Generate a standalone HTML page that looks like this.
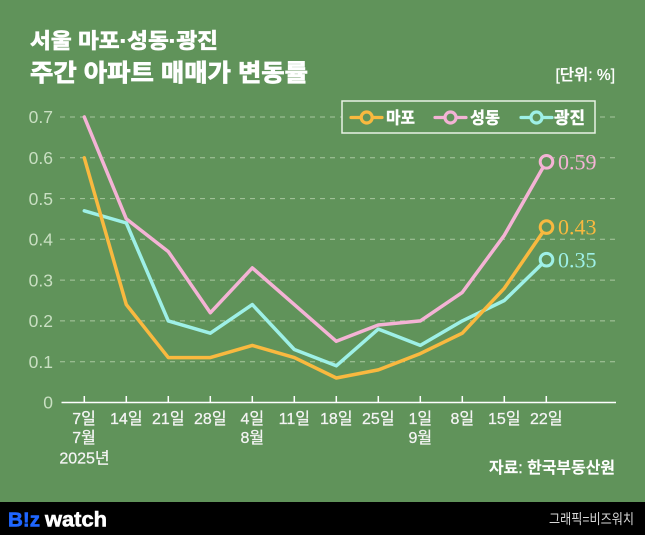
<!DOCTYPE html>
<html><head><meta charset="utf-8"><style>
html,body{margin:0;padding:0;background:#60935a;}
svg{display:block;}
.kr{font-family:"Liberation Sans","Noto Sans CJK KR",sans-serif;}
</style></head><body>
<svg width="645" height="535" viewBox="0 0 645 535" xmlns="http://www.w3.org/2000/svg">
<rect x="0" y="0" width="645" height="535" fill="#60935a"/>
<!-- titles -->
<text x="30" y="48" class="kr" font-size="21" font-weight="700" fill="#ffffff" stroke="#ffffff" stroke-width="0.7" textLength="188" lengthAdjust="spacingAndGlyphs">서울 마포·성동·광진</text>
<text x="30" y="81" class="kr" font-size="24" font-weight="700" fill="#ffffff" stroke="#ffffff" stroke-width="0.8" textLength="278" lengthAdjust="spacingAndGlyphs">주간 아파트 매매가 변동률</text>
<text x="615" y="80" class="kr" font-size="15.5" font-weight="500" fill="#ffffff" stroke="#ffffff" stroke-width="0.3" text-anchor="end">[단위: %]</text>
<!-- gridlines -->
<g stroke="#a9c7a0" stroke-width="1" stroke-dasharray="5,5">
<line x1="60" y1="117" x2="615" y2="117"/>
<line x1="60" y1="157.8" x2="615" y2="157.8"/>
<line x1="60" y1="198.6" x2="615" y2="198.6"/>
<line x1="60" y1="239.3" x2="615" y2="239.3"/>
<line x1="60" y1="280.1" x2="615" y2="280.1"/>
<line x1="60" y1="320.9" x2="615" y2="320.9"/>
<line x1="60" y1="361.7" x2="615" y2="361.7"/>
</g>
<!-- y labels -->
<g font-family="Liberation Sans, sans-serif" font-size="17.5" fill="#c9dfc2" text-anchor="end">
<text x="53" y="123">0.7</text>
<text x="53" y="164">0.6</text>
<text x="53" y="204.8">0.5</text>
<text x="53" y="245.5">0.4</text>
<text x="53" y="286.3">0.3</text>
<text x="53" y="327.1">0.2</text>
<text x="53" y="367.9">0.1</text>
<text x="53" y="408.5">0</text>
</g>
<!-- axis -->
<line x1="61.5" y1="402.5" x2="616" y2="402.5" stroke="#ffffff" stroke-width="1.5"/>
<g stroke="#ffffff" stroke-width="1.5">
<line x1="84.3" y1="396" x2="84.3" y2="402.5"/>
<line x1="126.3" y1="396" x2="126.3" y2="402.5"/>
<line x1="168.3" y1="396" x2="168.3" y2="402.5"/>
<line x1="210.3" y1="396" x2="210.3" y2="402.5"/>
<line x1="252.3" y1="396" x2="252.3" y2="402.5"/>
<line x1="294.3" y1="396" x2="294.3" y2="402.5"/>
<line x1="336.3" y1="396" x2="336.3" y2="402.5"/>
<line x1="378.3" y1="396" x2="378.3" y2="402.5"/>
<line x1="420.3" y1="396" x2="420.3" y2="402.5"/>
<line x1="462.3" y1="396" x2="462.3" y2="402.5"/>
<line x1="504.3" y1="396" x2="504.3" y2="402.5"/>
<line x1="546.3" y1="396" x2="546.3" y2="402.5"/>
</g>
<!-- x labels -->
<g class="kr" font-size="16" fill="#f4f4f4" stroke="#f4f4f4" stroke-width="0.25" text-anchor="middle">
<text x="84" y="424">7일</text>
<text x="126.3" y="424">14일</text>
<text x="168.3" y="424">21일</text>
<text x="210.3" y="424">28일</text>
<text x="252.3" y="424">4일</text>
<text x="294.3" y="424">11일</text>
<text x="336.3" y="424">18일</text>
<text x="378.3" y="424">25일</text>
<text x="420.3" y="424">1일</text>
<text x="462.3" y="424">8일</text>
<text x="504.3" y="424">15일</text>
<text x="546.3" y="424">22일</text>
<text x="84" y="443">7월</text>
<text x="252.3" y="443">8월</text>
<text x="420.3" y="443">9월</text>
<text x="84.5" y="463.5">2025년</text>
</g>
<!-- series -->
<g fill="none" stroke-width="3.5" stroke-linejoin="round" stroke-linecap="round">
<polyline stroke="#f4b3d5" points="84.3,117 126.3,218.9 168.3,251.6 210.3,312.8 252.3,267.9 294.3,304.6 336.3,341.3 378.3,325.0 420.3,320.9 462.3,292.4 504.3,235.3 546.3,161.8"/>
<polyline stroke="#9ef0e7" points="84.3,210.8 126.3,223.0 168.3,320.9 210.3,333.2 252.3,304.6 294.3,349.5 336.3,365.8 378.3,329.1 420.3,345.4 462.3,320.9 504.3,300.5 546.3,259.7"/>
<polyline stroke="#f9b93f" points="84.3,157.8 126.3,304.6 168.3,357.6 210.3,357.6 252.3,345.4 294.3,357.6 336.3,378.0 378.3,369.9 420.3,353.6 462.3,333.2 504.3,288.3 546.3,227.1"/>
</g>
<g fill="#60935a" stroke-width="3">
<circle cx="546.5" cy="161.8" r="6.3" stroke="#f4b3d5"/>
<circle cx="546.5" cy="227.1" r="6.3" stroke="#f9b93f"/>
<circle cx="546.5" cy="259.7" r="6.3" stroke="#9ef0e7"/>
</g>
<g font-family="Liberation Serif, serif" font-size="22">
<text x="558" y="169.5" fill="#f4b3d5">0.59</text>
<text x="558" y="234.5" fill="#f9b93f">0.43</text>
<text x="558" y="267.5" fill="#9ef0e7">0.35</text>
</g>
<!-- legend -->
<rect x="342" y="101" width="253" height="32" fill="#60935a" stroke="#e8f1e4" stroke-width="1.5"/>
<g stroke-width="3.2" fill="#60935a" stroke-linecap="round">
<line x1="351" y1="117.5" x2="382" y2="117.5" stroke="#f9b93f"/>
<circle cx="366.7" cy="117.5" r="5.5" stroke="#f9b93f"/>
<line x1="435" y1="117.5" x2="466" y2="117.5" stroke="#f4b3d5"/>
<circle cx="450.5" cy="117.5" r="5.5" stroke="#f4b3d5"/>
<line x1="521" y1="117.5" x2="552" y2="117.5" stroke="#9ef0e7"/>
<circle cx="536.5" cy="117.5" r="5.5" stroke="#9ef0e7"/>
</g>
<g class="kr" font-size="16.5" font-weight="700" fill="#ffffff" stroke="#ffffff" stroke-width="0.4">
<text x="386" y="123.5" textLength="29" lengthAdjust="spacingAndGlyphs">마포</text>
<text x="470" y="123.5" textLength="30" lengthAdjust="spacingAndGlyphs">성동</text>
<text x="554" y="123.5" textLength="31" lengthAdjust="spacingAndGlyphs">광진</text>
</g>
<!-- source -->
<text x="489" y="473" class="kr" font-size="16" font-weight="500" fill="#ffffff" stroke="#ffffff" stroke-width="0.4" textLength="126" lengthAdjust="spacingAndGlyphs">자료: 한국부동산원</text>
<!-- footer -->
<rect x="0" y="502" width="645" height="33" fill="#000000"/>
<text x="8" y="526.5" font-family="Liberation Sans, sans-serif" font-size="20" font-weight="700" fill="#1f66ff" stroke="#1f66ff" stroke-width="0.6" textLength="32" lengthAdjust="spacingAndGlyphs">B!z</text>
<text x="45" y="526.5" font-family="Liberation Sans, sans-serif" font-size="21" font-weight="700" fill="#ffffff" stroke="#ffffff" stroke-width="0.6" textLength="62" lengthAdjust="spacingAndGlyphs">watch</text>
<text x="549" y="524" class="kr" font-size="14" fill="#d8d8d8" textLength="85" lengthAdjust="spacingAndGlyphs">그래픽=비즈워치</text>
</svg>
</body></html>
